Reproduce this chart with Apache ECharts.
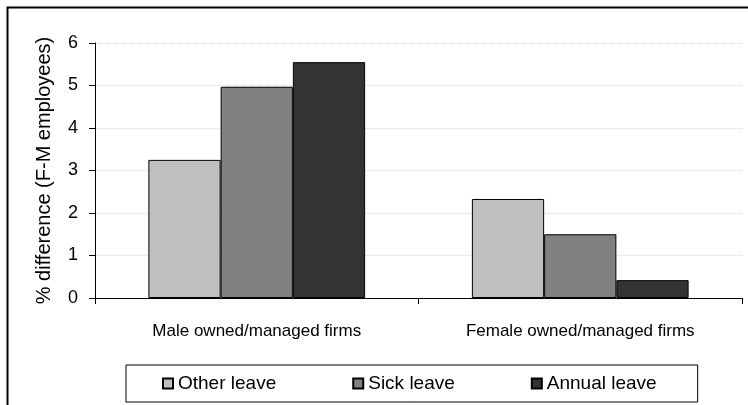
<!DOCTYPE html>
<html>
<head>
<meta charset="utf-8">
<script src="https://cdn.jsdelivr.net/npm/echarts@6/dist/echarts.min.js"></script>
<style>
  html, body { margin: 0; padding: 0; background: #fff; }
  #chart { width: 748px; height: 405px; }
</style>
</head>
<body>
<div id="chart"></div>
<script>
// Leave-entitlement gap between female and male employees, by firm ownership
const categories = ['Male owned/managed firms', 'Female owned/managed firms'];
const seriesNames = ['Other leave', 'Sick leave', 'Annual leave'];
const otherLeave = [3.25, 2.33];
const sickLeave = [4.97, 1.5];
const annualLeave = [5.55, 0.42];
const seriesColors = ['#c0c0c0', '#808080', '#333333'];

const FONT = '"Liberation Sans", Arial, sans-serif';
const chart = echarts.init(document.getElementById('chart'), null, { renderer: 'canvas' });

const values = [otherLeave, sickLeave, annualLeave];

chart.setOption({
  animation: false,
  backgroundColor: '#ffffff',
  textStyle: { fontFamily: FONT, color: '#000' },
  graphic: [{
    type: 'rect',
    shape: { x: 7.5, y: 7.5, width: 760, height: 420 },
    style: { fill: 'none', stroke: '#000', lineWidth: 2 },
    silent: true,
    z: -10
  }],
  grid: { left: 95, right: 6, top: 43, bottom: 107 },
  legend: {
    data: seriesNames,
    left: 126,
    top: 365,
    padding: [9, 41, 9, 36],
    itemGap: 76,
    itemWidth: 10,
    itemHeight: 10,
    borderColor: '#000',
    borderWidth: 1,
    icon: 'rect',
    textStyle: { fontFamily: FONT, fontSize: 19, color: '#000' }
  },
  xAxis: {
    type: 'category',
    data: categories,
    axisLine: { lineStyle: { color: '#000', width: 1 } },
    axisTick: { show: true, length: 6, alignWithLabel: false, lineStyle: { color: '#000' } },
    axisLabel: { fontFamily: FONT, fontSize: 17, color: '#000', margin: 25 },
    splitLine: { show: false }
  },
  yAxis: {
    type: 'value',
    min: 0,
    max: 6,
    interval: 1,
    name: '% difference (F-M employees)',
    nameLocation: 'middle',
    nameGap: 41,
    nameTextStyle: { fontFamily: FONT, fontSize: 20, color: '#000' },
    axisLine: { show: true, lineStyle: { color: '#000', width: 1 } },
    axisTick: { show: true, length: 6, lineStyle: { color: '#000' } },
    axisLabel: { fontFamily: FONT, fontSize: 18, color: '#000', margin: 17 },
    splitLine: { show: true, lineStyle: { color: '#d9d9d9', type: 'dotted', width: 1 } }
  },
  series: seriesNames.map((name, i) => ({
    name: name,
    type: 'bar',
    data: values[i],
    barGap: '0%',
    barCategoryGap: '33%',
    itemStyle: { color: seriesColors[i], borderColor: '#000', borderWidth: 1 }
  }))
});
</script>
</body>
</html>
